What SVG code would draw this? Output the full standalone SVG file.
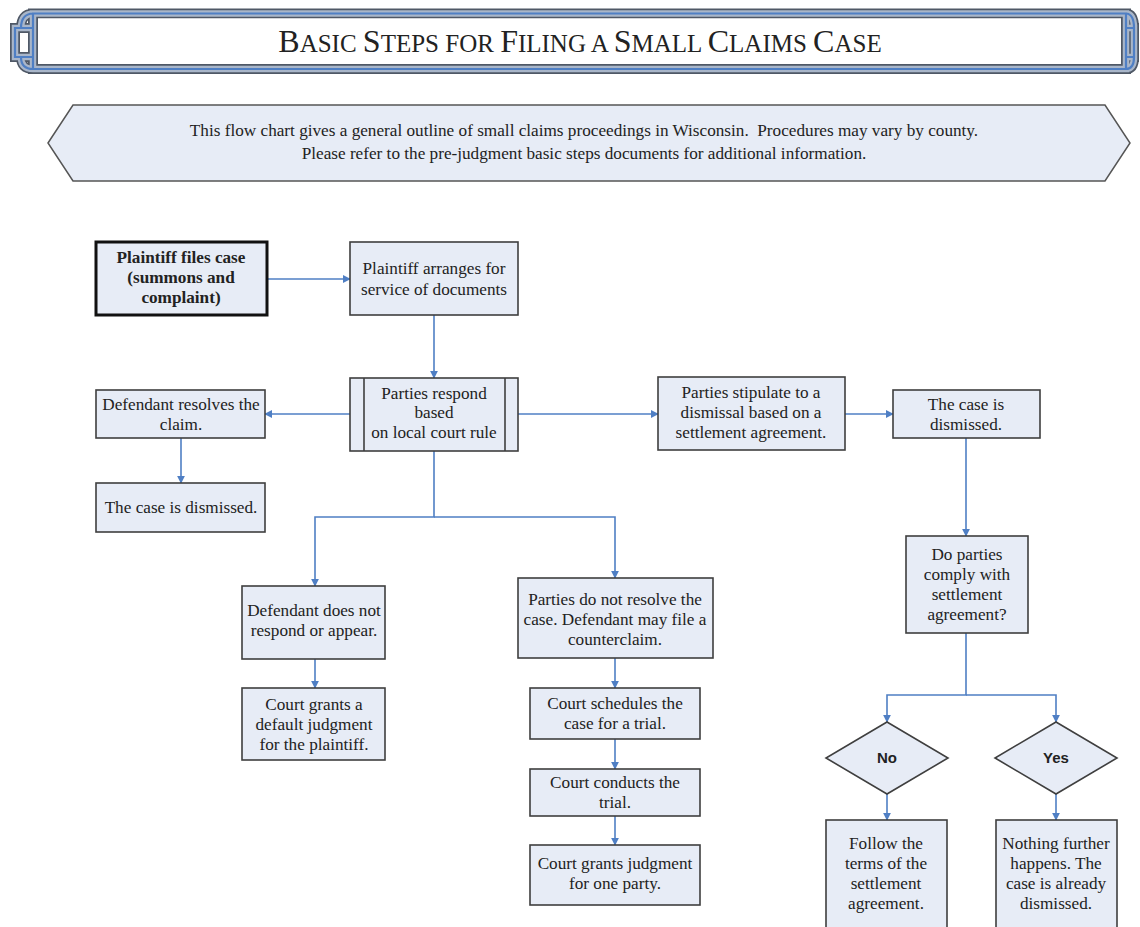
<svg xmlns="http://www.w3.org/2000/svg" width="1140" height="927" viewBox="0 0 1140 927">
<defs>
<style>
.n{fill:#e7ecf6;stroke:#3f3f3f;stroke-width:1.6}
.t{font-family:"Liberation Serif","Times New Roman",serif;font-size:17.2px;fill:#222;text-anchor:middle}
.b{font-weight:bold}
.s{font-family:"Liberation Sans",Arial,sans-serif;font-size:15px;font-weight:bold;fill:#222;text-anchor:middle}
.c{fill:none;stroke:#4f7fc4;stroke-width:1.6}
.fr{fill:none;stroke-linejoin:miter}
.bc{font-size:32px}
.sc{font-size:25px}
</style>
<marker id="a" viewBox="0 0 10 10" refX="9" refY="5" markerWidth="8" markerHeight="8" markerUnits="userSpaceOnUse" orient="auto">
<path d="M0,0 L10,5 L0,10 Z" fill="#4f7fc4"/>
</marker>
<path id="fp" d="M33,13.5 H1126 V69 H33 Z M33,13.5 V28 H15 V57 H33 V69 M33,13.5 Q21,14 21,28 M21,57 Q21,69 33,69 M1126,13.5 V28 H1134 V57 H1126 M1126,13.5 Q1134,14 1134,28 M1134,57 Q1134,69 1126,69"/>
</defs>
<rect width="1140" height="927" fill="#fff"/>
<g id="title">
<use href="#fp" class="fr" stroke="#4f5866" stroke-width="10"/>
<use href="#fp" class="fr" stroke="#a9b6c9" stroke-width="6.5"/>
<use href="#fp" class="fr" stroke="#4f7fc4" stroke-width="2.2"/>
<rect x="38" y="18.5" width="1083" height="45.5" fill="#fff"/>
<text x="580" y="52" font-family="Liberation Serif,'Times New Roman',serif" fill="#222" text-anchor="middle"><tspan class="bc">B</tspan><tspan class="sc">ASIC </tspan><tspan class="bc">S</tspan><tspan class="sc">TEPS FOR </tspan><tspan class="bc">F</tspan><tspan class="sc">ILING A </tspan><tspan class="bc">S</tspan><tspan class="sc">MALL </tspan><tspan class="bc">C</tspan><tspan class="sc">LAIMS </tspan><tspan class="bc">C</tspan><tspan class="sc">ASE</tspan></text>
</g>
<g id="intro">
<polygon points="48,143 73,105 1105,105 1130,143 1105,181 73,181" fill="#e7ecf6" stroke="#555" stroke-width="1.5"/>
<text class="t" x="584" y="136" xml:space="preserve">This flow chart gives a general outline of small claims proceedings in Wisconsin.  Procedures may vary by county.</text>
<text class="t" x="584" y="159">Please refer to the pre-judgment basic steps documents for additional information.</text>
</g>
<g id="connectors">
<path class="c" d="M267,279 H350" marker-end="url(#a)"/>
<path class="c" d="M434,315 V378" marker-end="url(#a)"/>
<path class="c" d="M350,414 H265" marker-end="url(#a)"/>
<path class="c" d="M518,414 H658" marker-end="url(#a)"/>
<path class="c" d="M845,414 H893" marker-end="url(#a)"/>
<path class="c" d="M181,438 V483" marker-end="url(#a)"/>
<path class="c" d="M434,451 V517 H315 V586" marker-end="url(#a)"/>
<path class="c" d="M434,517 H615 V578" marker-end="url(#a)"/>
<path class="c" d="M315,659 V688" marker-end="url(#a)"/>
<path class="c" d="M615,658 V688" marker-end="url(#a)"/>
<path class="c" d="M615,739 V769" marker-end="url(#a)"/>
<path class="c" d="M615,816 V845" marker-end="url(#a)"/>
<path class="c" d="M966,438 V536" marker-end="url(#a)"/>
<path class="c" d="M966,633 V695 H887 V722" marker-end="url(#a)"/>
<path class="c" d="M966,695 H1056 V722" marker-end="url(#a)"/>
<path class="c" d="M887,794 V820" marker-end="url(#a)"/>
<path class="c" d="M1056,794 V820" marker-end="url(#a)"/>
</g>
<g id="n1"><rect class="n" x="96" y="242" width="171" height="73" style="stroke-width:3;stroke:#111"/>
<text class="t b" x="181" y="263">Plaintiff files case</text><text class="t b" x="181" y="283">(summons and</text><text class="t b" x="181" y="303">complaint)</text></g>
<g id="n2"><rect class="n" x="350" y="242" width="168" height="73"/>
<text class="t" x="434" y="274">Plaintiff arranges for</text><text class="t" x="434" y="295">service of documents</text></g>
<g id="n3"><rect class="n" x="350" y="378" width="168" height="73"/>
<line x1="364" y1="378" x2="364" y2="451" stroke="#3f3f3f" stroke-width="1.6"/><line x1="505" y1="378" x2="505" y2="451" stroke="#3f3f3f" stroke-width="1.6"/>
<text class="t" x="434" y="399">Parties respond</text><text class="t" x="434" y="418">based</text><text class="t" x="434" y="438">on local court rule</text></g>
<g id="n4"><rect class="n" x="96" y="390" width="169" height="48"/>
<text class="t" x="181" y="410">Defendant resolves the</text><text class="t" x="181" y="430">claim.</text></g>
<g id="n5"><rect class="n" x="96" y="483" width="169" height="49"/>
<text class="t" x="181" y="513">The case is dismissed.</text></g>
<g id="n6"><rect class="n" x="658" y="377" width="187" height="73"/>
<text class="t" x="751" y="398">Parties stipulate to a</text><text class="t" x="751" y="418">dismissal based on a</text><text class="t" x="751" y="438">settlement agreement.</text></g>
<g id="n7"><rect class="n" x="893" y="390" width="147" height="48"/>
<text class="t" x="966" y="410">The case is</text><text class="t" x="966" y="430">dismissed.</text></g>
<g id="n8"><rect class="n" x="906" y="536" width="122" height="97"/>
<text class="t" x="967" y="560">Do parties</text><text class="t" x="967" y="580">comply with</text><text class="t" x="967" y="600">settlement</text><text class="t" x="967" y="620">agreement?</text></g>
<g id="n9"><rect class="n" x="242" y="586" width="143" height="73"/>
<text class="t" x="314" y="616">Defendant does not</text><text class="t" x="314" y="636">respond or appear.</text></g>
<g id="n10"><rect class="n" x="242" y="688" width="143" height="72"/>
<text class="t" x="314" y="710">Court grants a</text><text class="t" x="314" y="730">default judgment</text><text class="t" x="314" y="750">for the plaintiff.</text></g>
<g id="n11"><rect class="n" x="518" y="578" width="195" height="80"/>
<text class="t" x="615" y="605">Parties do not resolve the</text><text class="t" x="615" y="625">case. Defendant may file a</text><text class="t" x="615" y="645">counterclaim.</text></g>
<g id="n12"><rect class="n" x="530" y="688" width="170" height="51"/>
<text class="t" x="615" y="709">Court schedules the</text><text class="t" x="615" y="729">case for a trial.</text></g>
<g id="n13"><rect class="n" x="530" y="769" width="170" height="47"/>
<text class="t" x="615" y="788">Court conducts the</text><text class="t" x="615" y="808">trial.</text></g>
<g id="n14"><rect class="n" x="530" y="845" width="170" height="60"/>
<text class="t" x="615" y="869">Court grants judgment</text><text class="t" x="615" y="889">for one party.</text></g>
<g id="n15"><polygon class="n" points="887,722 948,758 887,794 826,758"/>
<text class="s" x="887" y="763">No</text></g>
<g id="n16"><polygon class="n" points="1056,722 1117,758 1056,794 995,758"/>
<text class="s" x="1056" y="763">Yes</text></g>
<g id="n17"><rect class="n" x="826" y="820" width="121" height="112"/>
<text class="t" x="886" y="849">Follow the</text><text class="t" x="886" y="869">terms of the</text><text class="t" x="886" y="889">settlement</text><text class="t" x="886" y="909">agreement.</text></g>
<g id="n18"><rect class="n" x="996" y="820" width="121" height="112"/>
<text class="t" x="1056" y="849">Nothing further</text><text class="t" x="1056" y="869">happens. The</text><text class="t" x="1056" y="889">case is already</text><text class="t" x="1056" y="909">dismissed.</text></g>
</svg>
